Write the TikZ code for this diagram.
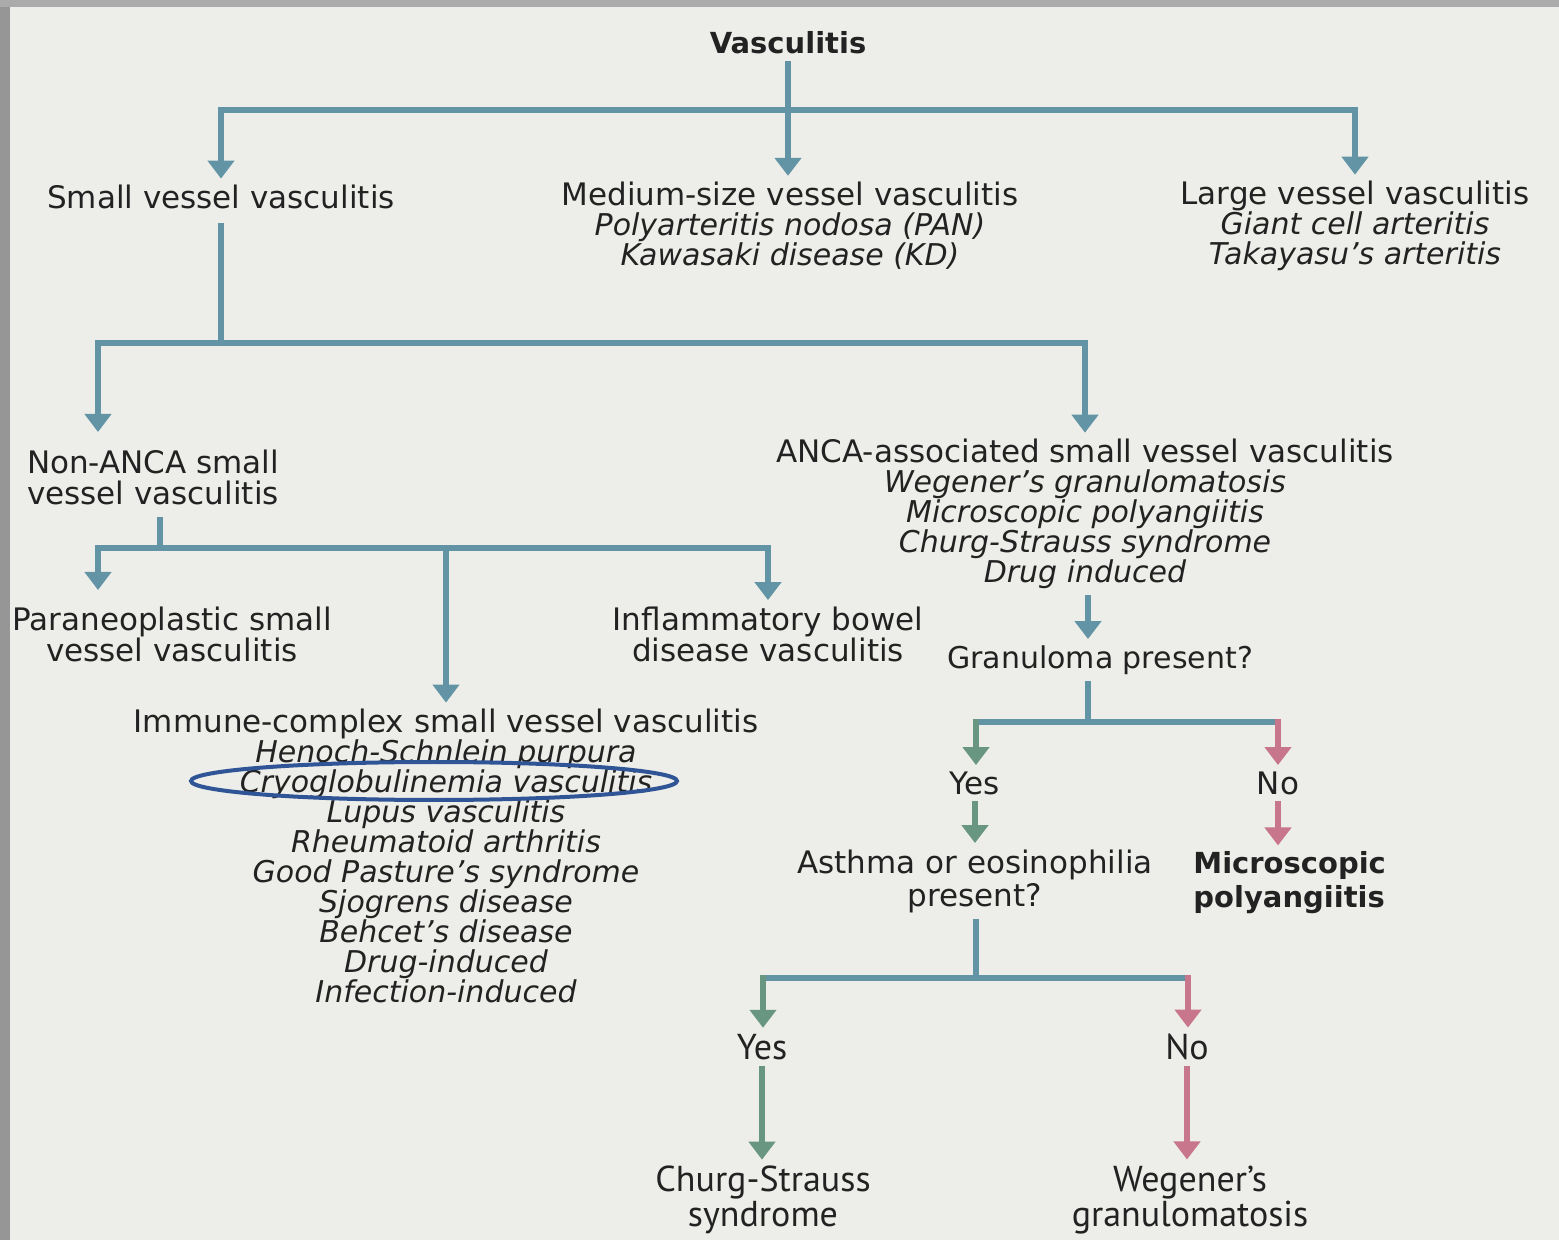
\documentclass[tikz,border=0pt]{standalone}
\usepackage{fontspec}
\setmainfont{DejaVu Sans}
\newfontfamily\narrowfont[Ligatures=TeX]{PT Sans}
\usepackage{tikz}
\usetikzlibrary{arrows.meta, positioning, calc}
\definecolor{bgcol}{HTML}{EDEEE9}
\definecolor{framecol}{HTML}{969696}
\definecolor{topcol}{HTML}{ABABAB}
\definecolor{flowblue}{RGB}{98,148,166}
\definecolor{flowgreen}{RGB}{105,150,128}
\definecolor{flowpink}{RGB}{199,118,140}
\definecolor{txt}{HTML}{222222}
\definecolor{ringblue}{HTML}{2F5597}
\tikzset{%
	head/.style={align=center, inner sep=3pt, text=txt, font=\fontsize{15.5}{15.5}\selectfont},
	list/.style={head, font=\fontsize{15.5}{15}\selectfont},
	bhead/.style={head, font=\fontsize{14.5}{17}\selectfont\bfseries},
	lowlab/.style={head, font=\fontsize{18}{16}\selectfont\narrowfont},
	trunk/.style={line width=3pt, draw=flowblue},
	flow/.style={trunk, -{Triangle[width=13pt,length=9pt]}},
	yesflow/.style={flow, draw=flowgreen, flowgreen},
	noflow/.style={flow, draw=flowpink, flowpink},
	ring/.style={draw=ringblue, line width=2pt}
}
\newcommand{\ital}[1]{{\fontsize{15}{15}\selectfont\itshape #1}}

\begin{document}
\begin{tikzpicture}[x=0.5pt, y=-0.5pt]
	% background and frame
	\fill[bgcol] (0,0) rectangle (1559,1240);
	\fill[framecol] (0,0) rectangle (10,1240);
	\fill[topcol] (0,0) rectangle (1559,7);
	\useasboundingbox (0,0) rectangle (1559,1240);

	% top level
	\node[bhead] (title) at (788,43) {Vasculitis};
	\node[head] (small) at (221,197) {Small vessel vasculitis};
	\node[list] (medium) at (790,226) {Medium-size vessel vasculitis\\ \ital{Polyarteritis nodosa (PAN)}\\ \ital{Kawasaki disease (KD)}};
	\node[list] (large) at (1355,226) {Large vessel vasculitis\\ \ital{Giant cell arteritis}\\ \ital{Takayasu's arteritis}};

	% small vessel
	\node[head] (nonanca) at (153,477) {Non-ANCA small\\vessel vasculitis};
	\node[list] (anca) at (1085,514) {ANCA-associated small vessel vasculitis\\ \ital{Wegener's granulomatosis}\\ \ital{Microscopic polyangiitis}\\ \ital{Churg-Strauss syndrome}\\ \ital{Drug induced}};
	\node[head] (para) at (172,634) {Paraneoplastic small\\vessel vasculitis};
	\node[head] (ibd) at (768,634) {Inflammatory bowel\\disease vasculitis};
	\node[list] (immune) at (446,856) {Immune-complex small vessel vasculitis\\ \ital{Henoch-Schnlein purpura}\\ \ital{Cryoglobulinemia vasculitis}\\ \ital{Lupus vasculitis}\\ \ital{Rheumatoid arthritis}\\ \ital{Good Pasture's syndrome}\\ \ital{Sjogrens disease}\\ \ital{Behcet's disease}\\ \ital{Drug-induced}\\ \ital{Infection-induced}};

	% ANCA decisions
	\node[head, font=\fontsize{15}{15}\selectfont] (granuloma) at (1100,660) {Granuloma present?};
	\node[head] (yesA) at (975,783) {Yes};
	\node[head] (noA) at (1278,783) {No};
	\node[head, font=\fontsize{15.5}{16.5}\selectfont] (asthma) at (975,881) {Asthma or eosinophilia\\present?};
	\node[bhead, align=left, anchor=west] (micro) at (1187,883) {Microscopic\\polyangiitis};
	\node[lowlab] (yesB) at (762,1047) {Yes};
	\node[lowlab] (noB) at (1187,1047) {No};
	\node[lowlab] (churg) at (763,1200) {Churg-Strauss\\syndrome};
	\node[lowlab] (wegener) at (1190,1200) {Wegener's\\granulomatosis};

	% junctions
	\coordinate (j1) at (788,110);
	\coordinate (j2) at (221,343);
	\coordinate (t2) at (98,432);
	\coordinate (j3) at (160,548);
	\coordinate (t3) at (98,590);
	\coordinate (j4) at (1088,722);
	\coordinate (j4l) at (976,722);
	\coordinate (j4r) at (1278,722);
	\coordinate (j5) at (976,978);
	\coordinate (j5l) at (763,978);
	\coordinate (j5r) at (1188,978);

	\draw[flow] (title) -- (title |- medium.north);
	\draw[flow] (j1) -| (small);
	\draw[flow] (j1) -| (large);

	\draw[trunk, shorten <=4pt] (small) -- (j2);
	\draw[flow] (j2) -| (t2);
	\draw[flow] (j2) -| (anca);

	\draw[trunk, shorten <=3pt] (nonanca.south -| j3) -- (j3);
	\draw[flow] (j3) -| (t3);
	\draw[flow] (j3) -| (immune);
	\draw[flow] (j3) -| (ibd);

	\draw[flow] (anca.south -| j4) -- (granuloma.north -| j4);
	\draw[trunk] (granuloma.south -| j4) -- (j4);
	\draw[trunk] (j4l) -- (j4r);
	\draw[yesflow, shorten <=-1.5pt] (j4l) -- (j4l |- yesA.north);
	\draw[noflow, shorten <=-1.5pt] (j4r) -- (j4r |- noA.north);
	\draw[yesflow] (yesA) -- (yesA |- asthma.north);
	\draw[noflow] (noA) -- (noA |- micro.north);

	\draw[trunk] (asthma.south -| j5) -- (j5);
	\draw[trunk] (j5l) -- (j5r);
	\draw[yesflow, shorten <=-1.5pt] (j5l) -- (j5l |- yesB.north);
	\draw[noflow, shorten <=-1.5pt] (j5r) -- (j5r |- noB.north);
	\draw[yesflow] (yesB) -- (yesB |- churg.north);
	\draw[noflow] (noB) -- (noB |- wegener.north);

	% highlight
	\draw[ring] (434,781) ellipse [x radius=243, y radius=19];
\end{tikzpicture}
\end{document}
